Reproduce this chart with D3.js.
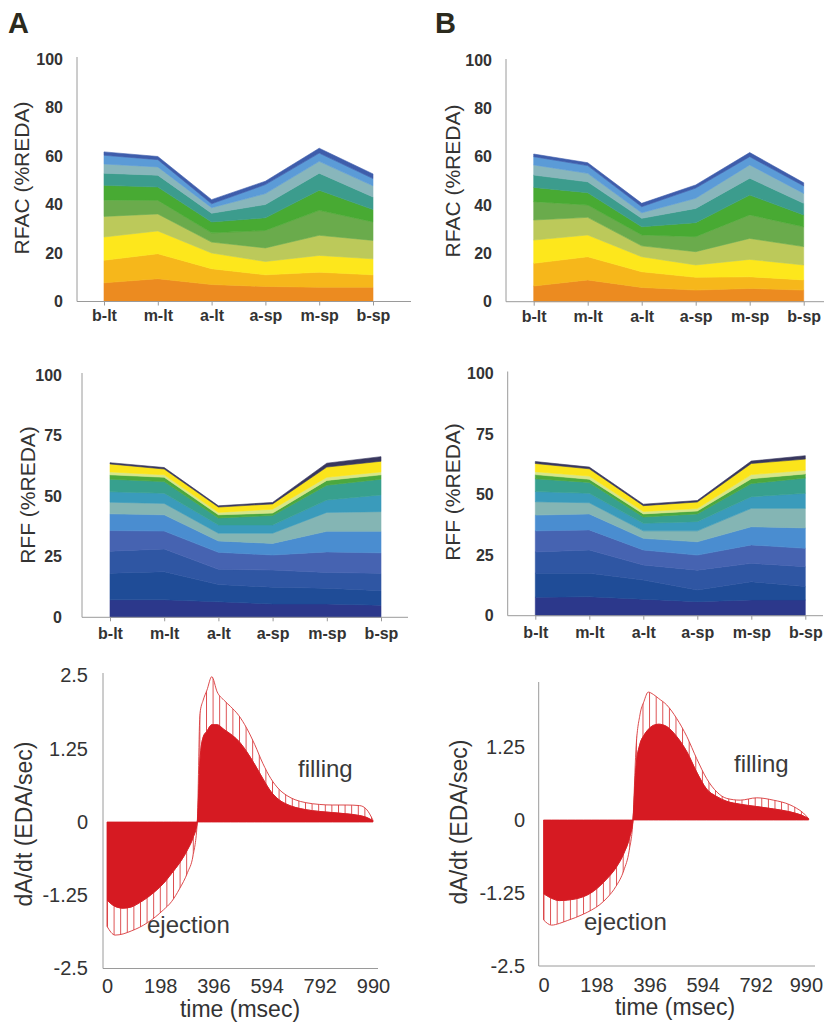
<!DOCTYPE html>
<html>
<head>
<meta charset="utf-8">
<script src="https://cdn.jsdelivr.net/npm/d3@7"></script>
<style>
  html, body { margin: 0; padding: 0; background: #fff; }
  svg { display: block; font-family: "Liberation Sans", Arial, Helvetica, sans-serif; }
</style>
</head>
<body>
<svg id="fig" width="824" height="1024"></svg>
<script>
// ---- regional segments (apex / mid / base, lateral and septal) ----
const categories = ["b-lt", "m-lt", "a-lt", "a-sp", "m-sp", "b-sp"];

// RFAC: regional fractional area change, one row per time slice (bottom to top)
const rfacColors = ["#ec8b20", "#f6b71b", "#fde71c", "#bcc95a", "#6aab4c",
                    "#48aa33", "#3c9c8d", "#88b6bb", "#5b9bd7", "#3e5dab"];
const rfacA = [
  [7.7, 9.4, 7.0, 6.2, 5.9, 5.9],
  [9.3, 10.3, 6.5, 4.8, 6.2, 5.1],
  [9.6, 9.4, 6.5, 5.5, 6.9, 6.6],
  [8.5, 7.0, 4.5, 5.6, 8.3, 7.6],
  [6.7, 5.6, 3.8, 7.2, 10.3, 7.6],
  [6.1, 5.5, 4.5, 5.2, 8.3, 5.1],
  [5.0, 4.9, 3.6, 5.5, 7.0, 5.2],
  [3.8, 3.4, 2.3, 4.5, 4.9, 4.6],
  [3.6, 3.0, 1.6, 3.7, 3.4, 3.0],
  [1.4, 1.3, 1.7, 1.4, 2.0, 1.9]
];
const rfacB = [
  [6.5, 9.0, 5.9, 4.8, 5.5, 4.8],
  [9.4, 9.6, 6.5, 5.3, 4.8, 4.2],
  [9.6, 9.0, 6.2, 5.1, 7.2, 6.2],
  [8.3, 7.3, 4.5, 5.5, 8.7, 7.6],
  [7.6, 5.1, 4.5, 6.2, 9.7, 8.2],
  [5.9, 5.1, 3.4, 5.8, 8.2, 4.9],
  [5.1, 4.5, 3.5, 5.9, 7.0, 4.8],
  [4.2, 3.5, 2.3, 4.2, 5.5, 4.1],
  [3.4, 3.2, 2.5, 4.2, 3.4, 3.1],
  [1.1, 1.2, 1.4, 1.3, 1.7, 1.3]
];
const rfacTicks = [0, 20, 40, 60, 80, 100];

// RFF: regional fractional filling, one row per time slice (bottom to top)
const rffColors = ["#2c388b", "#1f4c97", "#2f56a3", "#4663b1", "#4a8dd0", "#84b5b4",
                   "#3a9bbb", "#37a08e", "#4ca83e", "#d6e68a", "#fbe41b", "#38375e"];
const rffA = [
  [7.2, 7.2, 6.4, 5.5, 5.5, 5.0],
  [11.0, 11.6, 7.1, 6.9, 6.5, 6.0],
  [9.1, 9.4, 6.3, 7.1, 6.5, 7.2],
  [8.5, 7.4, 7.0, 6.2, 8.5, 8.4],
  [6.9, 6.7, 4.7, 4.8, 8.5, 8.9],
  [4.8, 4.7, 3.2, 4.2, 7.8, 8.1],
  [4.3, 4.2, 3.4, 3.4, 5.1, 6.9],
  [5.2, 4.8, 2.9, 3.9, 6.1, 6.5],
  [1.8, 1.8, 1.3, 1.0, 2.0, 1.8],
  [1.2, 1.0, 1.0, 1.6, 1.3, 1.2],
  [3.3, 2.4, 2.2, 2.2, 4.2, 4.4],
  [0.5, 0.6, 0.5, 0.6, 1.6, 1.9]
];
const rffB = [
  [7.6, 7.8, 6.8, 5.8, 6.5, 6.5],
  [9.9, 9.7, 7.9, 4.8, 7.5, 5.5],
  [8.8, 9.6, 6.2, 8.2, 7.6, 8.2],
  [8.7, 8.3, 6.2, 6.2, 7.6, 7.6],
  [6.5, 6.6, 4.8, 5.5, 7.5, 8.4],
  [5.5, 4.6, 3.1, 4.5, 7.6, 8.1],
  [4.2, 3.9, 3.1, 3.8, 4.8, 6.2],
  [5.3, 4.5, 2.6, 3.2, 5.4, 6.3],
  [1.7, 1.3, 1.3, 1.2, 2.0, 1.7],
  [1.2, 1.3, 1.0, 1.0, 1.7, 1.5],
  [3.4, 3.0, 2.4, 2.7, 4.6, 4.6],
  [0.8, 0.7, 0.6, 0.6, 1.0, 1.4]
];
const rffTicks = [0, 25, 50, 75, 100];

// dA/dt over the cardiac cycle: mean curve and upper band
const timeTicks = [0, 198, 396, 594, 792, 990];
const rateTicksA = [-2.5, -1.25, 0, 1.25, 2.5];
const rateTicksB = [-2.5, -1.25, 0, 1.25];

const timesA = [0, 30, 60, 90, 120, 150, 180, 210, 240, 270, 300, 320, 336,
                346, 358, 372, 390, 410, 435, 460, 490, 520, 550, 580, 610, 640,
                670, 700, 740, 790, 840, 890, 940, 965, 990];
const meanA  = [-1.33, -1.44, -1.47, -1.45, -1.38, -1.29, -1.18, -1.05, -0.88, -0.70, -0.47, -0.27, 0,
                1.05, 1.45, 1.55, 1.66, 1.66, 1.58, 1.50, 1.38, 1.20, 0.98, 0.74, 0.52, 0.38,
                0.30, 0.25, 0.21, 0.18, 0.16, 0.14, 0.11, 0.08, 0.02];
const upperA = [-1.78, -1.93, -1.91, -1.86, -1.80, -1.72, -1.62, -1.50, -1.36, -1.14, -0.86, -0.58, 0,
                1.85, 2.08, 2.25, 2.48, 2.22, 2.08, 1.97, 1.82, 1.60, 1.32, 1.00, 0.74, 0.56,
                0.45, 0.38, 0.33, 0.30, 0.29, 0.29, 0.28, 0.22, 0.03];

const timesB = [0, 30, 60, 90, 120, 150, 180, 210, 240, 270, 300, 320, 334,
                345, 360, 375, 391, 410, 430, 460, 497, 535, 572, 609, 647, 684,
                734, 796, 858, 920, 945, 970, 990];
const meanB  = [-1.26, -1.34, -1.38, -1.37, -1.35, -1.31, -1.24, -1.13, -0.99, -0.82, -0.57, -0.32, 0,
                0.90, 1.30, 1.45, 1.55, 1.62, 1.64, 1.60, 1.43, 1.17, 0.82, 0.53, 0.40, 0.32,
                0.27, 0.23, 0.19, 0.14, 0.11, 0.07, 0.02];
const upperB = [-1.71, -1.80, -1.77, -1.72, -1.67, -1.61, -1.54, -1.45, -1.32, -1.14, -0.86, -0.52, 0,
                1.20, 1.80, 2.03, 2.19, 2.15, 2.08, 1.97, 1.74, 1.43, 1.05, 0.71, 0.48, 0.37,
                0.34, 0.38, 0.34, 0.26, 0.20, 0.12, 0.02];

// ---------------------------------------------------------------------
const svg = d3.select("#fig");
const AXIS = "#9a9a9a";
const INK = "#333";
const RED = "#d61a22";
const FIG_W = 824;

function yTitle(text, cx, cy, size) {
  svg.append("text")
    .attr("transform", `translate(${cx},${cy}) rotate(-90)`)
    .attr("text-anchor", "middle")
    .attr("dy", "0.35em")
    .attr("font-size", size)
    .attr("fill", INK)
    .text(text);
}

// stacked area panel over the six segments
function stackedPanel(o) {
  const g = svg.append("g");
  const x = d3.scalePoint().domain(categories).range(o.xRange);
  const y = d3.scaleLinear().domain([0, 100]).range(o.yRange);

  const rows = categories.map((c, i) => {
    const r = { cat: c };
    o.layers.forEach((L, k) => { r[k] = L[i]; });
    return r;
  });
  const series = d3.stack().keys(o.layers.map((_, k) => k))(rows);
  const area = d3.area()
    .x(d => x(d.data.cat))
    .y0(d => y(d[0]))
    .y1(d => y(d[1]));

  g.selectAll("path.layer").data(series).join("path")
    .attr("class", "layer")
    .attr("d", area)
    .attr("fill", (d, i) => o.colors[i])
    .attr("stroke", (d, i) => o.colors[i])
    .attr("stroke-width", 0.6)
    .attr("stroke-linejoin", "round");

  // axis lines
  g.append("line").attr("x1", o.axisX).attr("x2", o.axisX)
    .attr("y1", o.axisTop).attr("y2", y(0))
    .attr("stroke", AXIS).attr("stroke-width", 1);
  g.append("line").attr("x1", o.axisX).attr("x2", o.axisRight)
    .attr("y1", y(0)).attr("y2", y(0))
    .attr("stroke", AXIS).attr("stroke-width", 1);

  const yAx = g.append("g").attr("transform", `translate(${o.axisX},0)`)
    .call(d3.axisLeft(y).tickValues(o.ticks).tickSize(0).tickPadding(o.yPad).tickFormat(d => String(d)));
  yAx.select(".domain").remove();
  yAx.selectAll("text").attr("font-size", 16).attr("font-weight", "bold")
    .attr("fill", INK).attr("font-family", null);

  const xAx = g.append("g").attr("transform", `translate(0,${y(0)})`)
    .call(d3.axisBottom(x).tickSize(4).tickPadding(o.xPad));
  xAx.select(".domain").remove();
  xAx.selectAll("line").attr("stroke", AXIS);
  xAx.selectAll("text").attr("font-size", 16).attr("font-weight", "bold")
    .attr("fill", INK).attr("font-family", null);

  yTitle(o.title, o.titleX, o.titleY, 21);
}

// dA/dt panel: solid mean curve and hatched band up to the upper curve
function ratePanel(o) {
  const g = svg.append("g");
  const x = d3.scaleLinear().domain([0, 990]).range(o.xRange);
  const y = d3.scaleLinear().domain([-2.5, 2.5]).range(o.yRange);
  const pts = o.times.map((t, i) => ({ t, m: o.mean[i], u: o.upper[i] }));

  const pid = "hatch" + o.id;
  const pat = svg.append("defs").append("pattern")
    .attr("id", pid).attr("patternUnits", "userSpaceOnUse")
    .attr("x", o.xRange[0]).attr("y", 0)
    .attr("width", 6.6).attr("height", 20);
  pat.append("line").attr("x1", 0.5).attr("x2", 0.5).attr("y1", 0).attr("y2", 20)
    .attr("stroke", "#d8383a").attr("stroke-width", 0.9);

  const band = d3.area().curve(d3.curveMonotoneX)
    .x(d => x(d.t)).y0(d => y(d.m)).y1(d => y(d.u));
  const meanArea = d3.area().curve(d3.curveMonotoneX)
    .x(d => x(d.t)).y0(y(0)).y1(d => y(d.m));

  g.append("path").datum(pts).attr("d", band)
    .attr("fill", `url(#${pid})`)
    .attr("stroke", "#d8383a").attr("stroke-width", 0.9).attr("stroke-linejoin", "round");
  g.append("path").datum(pts).attr("d", meanArea)
    .attr("fill", RED).attr("stroke", RED).attr("stroke-width", 0.8);

  // axes
  g.append("line").attr("x1", o.axisX).attr("x2", o.axisX)
    .attr("y1", o.axisTop).attr("y2", y(-2.5))
    .attr("stroke", AXIS).attr("stroke-width", 1);
  g.append("line").attr("x1", o.axisX).attr("x2", o.axisRight)
    .attr("y1", y(-2.5)).attr("y2", y(-2.5))
    .attr("stroke", AXIS).attr("stroke-width", 1);

  const yAx = g.append("g").attr("transform", `translate(${o.axisX},0)`)
    .call(d3.axisLeft(y).tickValues(o.yTicks).tickSize(0).tickPadding(o.yPad).tickFormat(d => String(d)));
  yAx.select(".domain").remove();
  yAx.selectAll("text").attr("font-size", 20).attr("fill", INK).attr("font-family", null);

  const xAx = g.append("g").attr("transform", `translate(0,${y(-2.5)})`)
    .call(d3.axisBottom(x).tickValues(timeTicks).tickSize(0).tickPadding(o.xPad).tickFormat(d => String(d)));
  xAx.select(".domain").remove();
  xAx.selectAll("text").attr("font-size", 20).attr("fill", INK).attr("font-family", null);

  // keep the last tick label inside the figure's right edge
  xAx.selectAll(".tick").each(function () {
    const tick = d3.select(this);
    const box = this.getBBox();
    const tx = +tick.attr("transform").match(/translate\(([-\d.]+)/)[1];
    const overflow = tx + box.x + box.width - (FIG_W - 1);
    if (overflow > 0) tick.select("text").attr("x", -overflow);
  });

  svg.append("text").attr("x", o.xTitle[0]).attr("y", o.xTitle[1])
    .attr("text-anchor", "middle").attr("font-size", 23).attr("fill", INK)
    .text("time (msec)");
  yTitle("dA/dt (EDA/sec)", o.yTitle[0], o.yTitle[1], 23);

  svg.append("text").attr("x", o.fillLabel[0]).attr("y", o.fillLabel[1])
    .attr("font-size", 24).attr("fill", "#3a3a3a").text("filling");
  svg.append("text").attr("x", o.ejectLabel[0]).attr("y", o.ejectLabel[1])
    .attr("font-size", 24).attr("fill", "#3a3a3a").text("ejection");
}

// panel letters
svg.append("text").attr("x", 8).attr("y", 33).attr("font-size", 29)
  .attr("font-weight", "bold").attr("fill", "#2b2a1d").text("A");
svg.append("text").attr("x", 435).attr("y", 33).attr("font-size", 29)
  .attr("font-weight", "bold").attr("fill", "#2b2a1d").text("B");

// RFAC
stackedPanel({ layers: rfacA, colors: rfacColors, ticks: rfacTicks,
  xRange: [104, 373], yRange: [301.5, 59], axisX: 77, axisTop: 57, axisRight: 411,
  yPad: 14, xPad: 4.6, title: "RFAC (%REDA)", titleX: 22, titleY: 178 });
stackedPanel({ layers: rfacB, colors: rfacColors, ticks: rfacTicks,
  xRange: [533.7, 803.7], yRange: [301.7, 60], axisX: 506, axisTop: 59, axisRight: 824,
  yPad: 14, xPad: 5.4, title: "RFAC (%REDA)", titleX: 453, titleY: 181 });

// RFF
stackedPanel({ layers: rffA, colors: rffColors, ticks: rffTicks,
  xRange: [110, 381], yRange: [617.3, 375], axisX: 82, axisTop: 373, axisRight: 408,
  yPad: 20, xPad: 6.3, title: "RFF (%REDA)", titleX: 27.5, titleY: 495 });
stackedPanel({ layers: rffB, colors: rffColors, ticks: rffTicks,
  xRange: [535.3, 805.3], yRange: [615.7, 373.3], axisX: 507.7, axisTop: 371.5, axisRight: 823,
  yPad: 14, xPad: 6.9, title: "RFF (%REDA)", titleX: 453, titleY: 492 });

// dA/dt
ratePanel({ id: "A", times: timesA, mean: meanA, upper: upperA, yTicks: rateTicksA,
  xRange: [107, 373], yRange: [968.5, 675.5], axisX: 103, axisTop: 673, axisRight: 378,
  yPad: 15, xPad: 10.3, xTitle: [240, 1017], yTitle: [24, 824],
  fillLabel: [298, 777], ejectLabel: [147, 933] });
ratePanel({ id: "B", times: timesB, mean: meanB, upper: upperB, yTicks: rateTicksB,
  xRange: [543.5, 808.7], yRange: [966, 674], axisX: 538.7, axisTop: 682, axisRight: 815,
  yPad: 13.7, xPad: 11.5, xTitle: [675, 1015], yTitle: [459, 822],
  fillLabel: [734, 772], ejectLabel: [584, 930] });
</script>
</body>
</html>
